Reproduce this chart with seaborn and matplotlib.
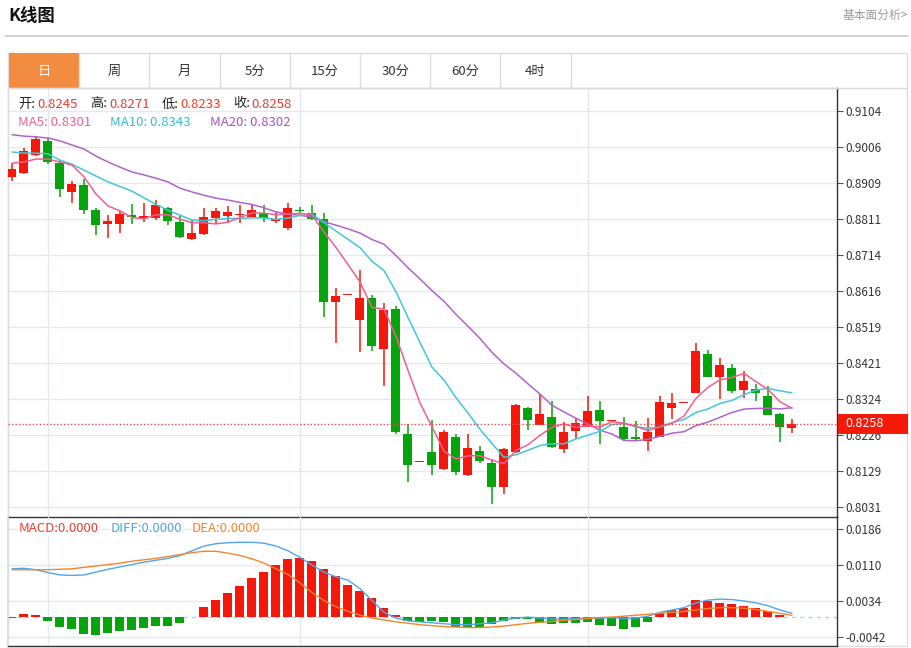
import numpy as np
import pandas as pd
import matplotlib
matplotlib.use('Agg')
import matplotlib.pyplot as plt
import matplotlib.transforms as mtransforms
from matplotlib.patches import Rectangle
import seaborn as sns

# ---------------- data ----------------
opens = [0.8925, 0.8936, 0.8985, 0.9023, 0.8963, 0.8885, 0.8904, 0.8836, 0.8798, 0.8798,
         0.8822, 0.8814, 0.8814, 0.8841, 0.8803, 0.8757, 0.8771, 0.8814, 0.8819, 0.8822,
         0.8817, 0.8828, 0.8806, 0.8787, 0.8836, 0.8828, 0.8811, 0.8586, 0.8606, 0.8538,
         0.8597, 0.8459, 0.8567, 0.8231, 0.8153, 0.8180, 0.8134, 0.8221, 0.8120, 0.8183,
         0.8150, 0.8085, 0.8180, 0.8299, 0.8253, 0.8277, 0.8188, 0.8237, 0.8248, 0.8294,
         0.8264, 0.8250, 0.8221, 0.8210, 0.8221, 0.8299, 0.8313, 0.8340, 0.8446, 0.8383,
         0.8408, 0.8348, 0.8351, 0.8332, 0.8283, 0.8245]
highs = [0.8963, 0.9004, 0.9036, 0.9031, 0.8971, 0.8914, 0.8920, 0.8841, 0.8822, 0.8833,
         0.8852, 0.8855, 0.8863, 0.8844, 0.8819, 0.8809, 0.8841, 0.8841, 0.8847, 0.8849,
         0.8849, 0.8849, 0.8830, 0.8855, 0.8844, 0.8849, 0.8828, 0.8624, 0.8608, 0.8673,
         0.8605, 0.8584, 0.8576, 0.8256, 0.8156, 0.8267, 0.8240, 0.8231, 0.8231, 0.8196,
         0.8161, 0.8191, 0.8310, 0.8302, 0.8337, 0.8318, 0.8261, 0.8272, 0.8332, 0.8318,
         0.8267, 0.8275, 0.8264, 0.8272, 0.8332, 0.8340, 0.8315, 0.8475, 0.8456, 0.8435,
         0.8418, 0.8399, 0.8364, 0.8361, 0.8286, 0.8271]
lows = [0.8914, 0.8933, 0.8982, 0.8960, 0.8871, 0.8855, 0.8825, 0.8768, 0.8760, 0.8773,
        0.8798, 0.8803, 0.8809, 0.8795, 0.8760, 0.8754, 0.8768, 0.8798, 0.8801, 0.8801,
        0.8814, 0.8803, 0.8801, 0.8782, 0.8828, 0.8809, 0.8546, 0.8475, 0.8606, 0.8451,
        0.8454, 0.8359, 0.8229, 0.8099, 0.8153, 0.8118, 0.8131, 0.8120, 0.8115, 0.8150,
        0.8039, 0.8066, 0.8177, 0.8240, 0.8253, 0.8191, 0.8177, 0.8215, 0.8248, 0.8204,
        0.8264, 0.8212, 0.8212, 0.8185, 0.8221, 0.8269, 0.8313, 0.8340, 0.8383, 0.8324,
        0.8342, 0.8326, 0.8318, 0.8280, 0.8207, 0.8233]
closes = [0.8947, 0.8996, 0.9028, 0.8966, 0.8893, 0.8906, 0.8836, 0.8795, 0.8806, 0.8825,
          0.8817, 0.8819, 0.8849, 0.8806, 0.8763, 0.8773, 0.8817, 0.8833, 0.8830, 0.8825,
          0.8836, 0.8814, 0.8811, 0.8841, 0.8833, 0.8811, 0.8586, 0.8603, 0.8608, 0.8597,
          0.8467, 0.8565, 0.8234, 0.8147, 0.8156, 0.8145, 0.8234, 0.8128, 0.8191, 0.8156,
          0.8085, 0.8188, 0.8307, 0.8267, 0.8283, 0.8194, 0.8234, 0.8259, 0.8291, 0.8264,
          0.8267, 0.8215, 0.8215, 0.8234, 0.8315, 0.8313, 0.8315, 0.8454, 0.8383, 0.8416,
          0.8345, 0.8372, 0.8340, 0.8280, 0.8248, 0.8258]

ma5_seed = [0.8963, 0.8966, 0.8974, 0.8974]
ma10_seed = [0.8993, 0.8990, 0.8990, 0.8988, 0.8971, 0.8960, 0.8944, 0.8928, 0.8912]
ma20_seed = [0.9040, 0.9036, 0.9034, 0.9031, 0.9023, 0.9012, 0.9001, 0.8982, 0.8966, 0.8952,
             0.8939, 0.8931, 0.8922, 0.8912, 0.8895, 0.8885, 0.8876, 0.8868, 0.8863]
ma_legend_values = [0.8301, 0.8343, 0.8302]

macd_hist = [-0.0001, 0.0006, 0.0004, -0.0008, -0.0020, -0.0025, -0.0035, -0.0037, -0.0033, -0.0030,
             -0.0027, -0.0023, -0.0018, -0.0018, -0.0012, 0.0001, 0.0021, 0.0036, 0.0050, 0.0065,
             0.0082, 0.0095, 0.0110, 0.0123, 0.0125, 0.0118, 0.0102, 0.0086, 0.0068, 0.0056,
             0.0040, 0.0020, 0.0004, -0.0008, -0.0010, -0.0009, -0.0010, -0.0020, -0.0022, -0.0020,
             -0.0015, -0.0008, -0.0003, -0.0004, -0.0012, -0.0014, -0.0012, -0.0012, -0.0010, -0.0016,
             -0.0018, -0.0026, -0.0020, -0.0010, 0.0008, 0.0016, 0.0020, 0.0036, 0.0034, 0.0030,
             0.0028, 0.0024, 0.0020, 0.0012, 0.0004, 0.0001]
diff_vals = [0.0102, 0.0103, 0.0100, 0.0094, 0.0089, 0.0088, 0.0089, 0.0095, 0.0101, 0.0106,
             0.0111, 0.0116, 0.0120, 0.0124, 0.0130, 0.0140, 0.0150, 0.0155, 0.0157, 0.0158,
             0.0158, 0.0156, 0.0150, 0.0140, 0.0126, 0.0110, 0.0095, 0.0085, 0.0078, 0.0060,
             0.0035, 0.0010, -0.0002, -0.0008, -0.0010, -0.0012, -0.0014, -0.0016, -0.0016, -0.0014,
             -0.0012, -0.0006, -0.0002, 0.0000, -0.0002, -0.0004, -0.0004, -0.0003, -0.0002, -0.0002,
             -0.0001, -0.0003, -0.0002, 0.0002, 0.0010, 0.0015, 0.0020, 0.0030, 0.0036, 0.0038,
             0.0037, 0.0034, 0.0030, 0.0024, 0.0015, 0.0008]
dea_vals = [0.0100, 0.0100, 0.0100, 0.0100, 0.0101, 0.0102, 0.0105, 0.0108, 0.0111, 0.0114,
            0.0118, 0.0121, 0.0124, 0.0128, 0.0132, 0.0136, 0.0139, 0.0139, 0.0135, 0.0130,
            0.0123, 0.0114, 0.0102, 0.0090, 0.0072, 0.0052, 0.0035, 0.0022, 0.0012, 0.0004,
            -0.0002, -0.0006, -0.0010, -0.0013, -0.0016, -0.0018, -0.0020, -0.0021, -0.0022, -0.0022,
            -0.0021, -0.0019, -0.0016, -0.0013, -0.0011, -0.0009, -0.0007, -0.0005, -0.0003, -0.0001,
            0.0000, 0.0002, 0.0004, 0.0006, 0.0008, 0.0010, 0.0012, 0.0015, 0.0018, 0.0020,
            0.0020, 0.0019, 0.0016, 0.0012, 0.0008, 0.0004]

price_ticks = [0.9104, 0.9006, 0.8909, 0.8811, 0.8714, 0.8616, 0.8519, 0.8421, 0.8324, 0.8226, 0.8129, 0.8031]
macd_ticks = [0.0186, 0.0110, 0.0034, -0.0042]
tab_labels = ['日', '周', '月', '5分', '15分', '30分', '60分', '4时']
month_marks = [3, 24, 48]
last_price = 0.8258

# ---------------- style ----------------
sns.set_theme(style='white')
plt.rcParams['font.family'] = ['Noto Sans CJK SC', 'DejaVu Sans']
plt.rcParams['axes.unicode_minus'] = False

RED = '#f5180a'
GREEN = '#04a50b'
GRID = '#e3e9f0'
C_MA5, C_MA10, C_MA20 = '#f0608e', '#43c6db', '#b063c9'
C_DIFF, C_DEA = '#50a6ea', '#f5852a'

W, H = 912, 648
fig = plt.figure(figsize=(9.12, 6.48), dpi=100)
fig.patch.set_facecolor('white')

def fa(x0, y0, x1, y1):
    return [x0 / W, 1 - y1 / H, (x1 - x0) / W, (y1 - y0) / H]

def ftext(x, y, s, **kw):
    kw.setdefault('fontsize', 9.5)
    kw.setdefault('ha', 'left')
    kw.setdefault('va', 'center')
    return fig.text(x / W, 1 - y / H, s, zorder=10, **kw)

bg = fig.add_axes([0, 0, 1, 1], zorder=0)
bg.set_xlim(0, W)
bg.set_ylim(H, 0)
bg.axis('off')

# header
bg.text(8, 16, 'K线图', fontsize=12.5, fontweight='bold', ha='left', va='center', color='#111111')
bg.text(908, 15, '基本面分析>', fontsize=8.5, ha='right', va='center', color='#9a9a9a')
bg.plot([5, 908], [36, 36], color='#cfcfcf', lw=1.3)

# tabs
tw = 70.2
bg.add_patch(Rectangle((8.5, 52.5), 898.5, 35.5, fill=False, ec='#dddddd', lw=1))
for k, lab in enumerate(tab_labels):
    x0 = 9 + tw * k
    if k == 0:
        bg.add_patch(Rectangle((x0, 53), tw, 35, fc='#f28c40', ec='none'))
    bg.plot([x0 + tw, x0 + tw], [53, 88], color='#dddddd', lw=1)
    bg.text(x0 + tw / 2, 71, lab, ha='center', va='center', fontsize=9.5,
            color='white' if k == 0 else '#333333')

# chart frame
bg.add_patch(Rectangle((8.5, 88), 898.5, 558, fill=False, ec='#dddddd', lw=1))

# legend rows (price)
row1 = [(18, '开:', 37, opens[-1]), (90, '高:', 109, highs[-1]),
        (162, '低:', 180, lows[-1]), (233, '收:', 251, closes[-1])]
for xl, lab, xv, val in row1:
    ftext(xl, 104, lab, color='#222222')
    ftext(xv, 104, f'{val:.4f}', color='#f03a2a')

ftext(18, 122.5, f'MA5: {ma_legend_values[0]:.4f}', color=C_MA5)
ftext(110, 122.5, f'MA10: {ma_legend_values[1]:.4f}', color='#36bcd6')
ftext(210, 122.5, f'MA20: {ma_legend_values[2]:.4f}', color='#a654c4')

# ---------------- main candle axes ----------------
n = len(closes)
idx = np.arange(n)
s = pd.Series(closes)
ma5 = s.rolling(5).mean().to_numpy()
ma10 = s.rolling(10).mean().to_numpy()
ma20 = s.rolling(20).mean().to_numpy()
ma5[:len(ma5_seed)] = ma5_seed
ma10[:len(ma10_seed)] = ma10_seed
ma20[:len(ma20_seed)] = ma20_seed

ax = fig.add_axes(fa(8, 88, 837, 516.5), zorder=1)
ax.patch.set_alpha(0)
xlim = (-0.333, 68.75)
ax.set_xlim(*xlim)
ax.set_ylim(0.80064, 0.91663)

for t in price_ticks:
    ax.axhline(t, color=GRID, lw=1, zorder=0)
for m in month_marks:
    ax.axvline(m, color=GRID, lw=1, zorder=0)

o = np.array(opens); c = np.array(closes); hi = np.array(highs); lo = np.array(lows)
up = c >= o
cols = np.where(up, RED, GREEN)
bottoms = np.minimum(o, c)
heights = np.maximum(np.abs(c - o), 0.0004)
ax.vlines(idx, lo, hi, colors=cols, lw=1.1, zorder=2)
ax.bar(idx, heights, bottom=bottoms, width=0.75, color=cols, lw=0, zorder=3)

sns.lineplot(x=idx, y=ma20, ax=ax, color=C_MA20, lw=1.1, zorder=4, estimator=None, sort=False)
sns.lineplot(x=idx, y=ma10, ax=ax, color=C_MA10, lw=1.1, zorder=4, estimator=None, sort=False)
sns.lineplot(x=idx, y=ma5, ax=ax, color=C_MA5, lw=1.1, zorder=4, estimator=None, sort=False)

ax.axhline(last_price, color='#e84a4a', ls=(0, (1, 1.5)), lw=1, zorder=5)

ax.set_xlabel('')
ax.set_ylabel('')
ax.set_xticks([])
ax.yaxis.tick_right()
ax.set_yticks(price_ticks)
ax.set_yticklabels([f'{t:.4f}' for t in price_ticks])
ax.tick_params(axis='y', right=True, left=False, length=4, width=0.8, color='#555555',
               labelsize=8.5, labelcolor='#333333', pad=2)
for side in ['top', 'left']:
    ax.spines[side].set_color('#dddddd')
    ax.spines[side].set_linewidth(1)
for side in ['right', 'bottom']:
    ax.spines[side].set_color('#333333')
    ax.spines[side].set_linewidth(1)

trans = mtransforms.blended_transform_factory(ax.transAxes, ax.transData)
ax.add_patch(Rectangle((1.001, last_price - 0.00271), 0.0845, 0.00542, transform=trans,
                       fc='#f5190a', ec='none', clip_on=False, zorder=6))
ax.text(1.0097, last_price, f'{last_price:.4f}', transform=trans, fontsize=9, color='white',
        ha='left', va='center', zorder=7, clip_on=False)

# ---------------- MACD axes ----------------
axm = fig.add_axes(fa(8, 516.5, 837, 646), zorder=1)
axm.patch.set_alpha(0)
axm.set_xlim(*xlim)
axm.set_ylim(-0.0061, 0.02124)
for t in macd_ticks:
    axm.axhline(t, color=GRID, lw=1, zorder=0)
for m in month_marks:
    axm.axvline(m, color=GRID, lw=1, zorder=0)
axm.axhline(0, color='#a9d4f2', lw=1, ls=(0, (3, 3)), zorder=1)

hv = np.array(macd_hist)
axm.bar(idx, hv, width=0.75, color=np.where(hv >= 0, RED, GREEN), lw=0, zorder=2)
sns.lineplot(x=idx, y=diff_vals, ax=axm, color=C_DIFF, lw=1.0, zorder=3, estimator=None, sort=False)
sns.lineplot(x=idx, y=dea_vals, ax=axm, color=C_DEA, lw=1.0, zorder=3, estimator=None, sort=False)

axm.set_xlabel('')
axm.set_ylabel('')
axm.set_xticks([])
axm.yaxis.tick_right()
axm.set_yticks(macd_ticks)
axm.set_yticklabels([f'{t:.4f}' for t in macd_ticks])
axm.tick_params(axis='y', right=True, left=False, length=4, width=0.8, color='#555555',
                labelsize=8.5, labelcolor='#333333', pad=2)
axm.spines['top'].set_visible(False)
axm.spines['left'].set_color('#dddddd')
for side in ['right', 'bottom']:
    axm.spines[side].set_color('#333333')
    axm.spines[side].set_linewidth(1)

wb = dict(boxstyle='square,pad=0.1', fc='white', ec='none')
ftext(19, 528, 'MACD:0.0000', color='#f0392b', bbox=wb)
ftext(111, 528, 'DIFF:0.0000', color='#4fa3e8', bbox=wb)
ftext(192, 528, 'DEA:0.0000', color='#f7822a', bbox=wb)

fig.savefig('out.png', dpi=100, facecolor='white')
